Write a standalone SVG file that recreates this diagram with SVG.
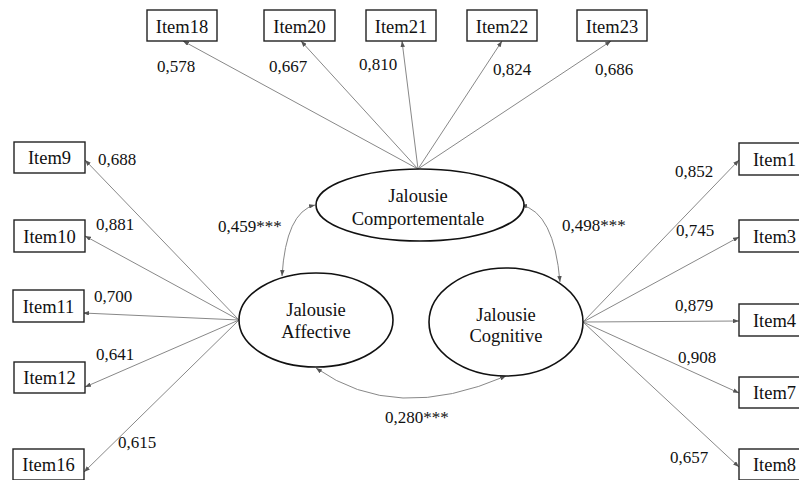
<svg xmlns="http://www.w3.org/2000/svg" width="799" height="480" viewBox="0 0 799 480">
<defs>
<marker id="ah" viewBox="0 0 8 6" refX="8" refY="3" markerWidth="6" markerHeight="4.5" markerUnits="userSpaceOnUse" orient="auto-start-reverse">
<path d="M0,0 L8,3 L0,6 z" fill="#555"/>
</marker>
<style>
.box{fill:#fff;stroke:#222;stroke-width:1.4}
.ell{fill:#fff;stroke:#111;stroke-width:1.6}
.t{font-family:"Liberation Serif","Times New Roman",serif;font-size:18.5px;fill:#111;text-anchor:middle}
.n{font-family:"Liberation Serif","Times New Roman",serif;font-size:17px;fill:#111}
.c line,.c path{stroke:#888;stroke-width:1;fill:none}
</style>
</defs>
<rect width="799" height="480" fill="#fff"/>
<g class="c" id="connectors">
<line x1="418" y1="169" x2="183" y2="41" marker-end="url(#ah)"/>
<line x1="418" y1="169" x2="301" y2="41" marker-end="url(#ah)"/>
<line x1="418" y1="169" x2="402" y2="41" marker-end="url(#ah)"/>
<line x1="418" y1="169" x2="502" y2="41" marker-end="url(#ah)"/>
<line x1="418" y1="169" x2="611" y2="41" marker-end="url(#ah)"/>
<line x1="239" y1="320" x2="85" y2="160" marker-end="url(#ah)"/>
<line x1="239" y1="320" x2="85" y2="236" marker-end="url(#ah)"/>
<line x1="239" y1="320" x2="83" y2="313" marker-end="url(#ah)"/>
<line x1="239" y1="320" x2="85" y2="387" marker-end="url(#ah)"/>
<line x1="239" y1="320" x2="84" y2="472" marker-end="url(#ah)"/>
<line x1="583" y1="322" x2="739" y2="160" marker-end="url(#ah)"/>
<line x1="583" y1="322" x2="739" y2="237" marker-end="url(#ah)"/>
<line x1="583" y1="322" x2="739" y2="321" marker-end="url(#ah)"/>
<line x1="583" y1="322" x2="739" y2="393" marker-end="url(#ah)"/>
<line x1="583" y1="322" x2="739" y2="467" marker-end="url(#ah)"/>
<path d="M315,205 Q286,212 282,276" marker-start="url(#ah)" marker-end="url(#ah)"/>
<path d="M521,205 Q554,212 560,282" marker-start="url(#ah)" marker-end="url(#ah)"/>
<path d="M316,368 Q395,424 506,376" marker-start="url(#ah)" marker-end="url(#ah)"/>
</g>
<g id="item18"><rect class="box" x="147" y="10" width="70" height="31"/><text class="t" x="182" y="33">Item18</text></g>
<g id="item20"><rect class="box" x="264" y="10" width="71" height="31"/><text class="t" x="299.5" y="33">Item20</text></g>
<g id="item21"><rect class="box" x="366" y="10" width="70" height="31"/><text class="t" x="401" y="33">Item21</text></g>
<g id="item22"><rect class="box" x="467" y="10" width="70" height="31"/><text class="t" x="502" y="33">Item22</text></g>
<g id="item23"><rect class="box" x="577" y="10" width="70" height="31"/><text class="t" x="612" y="33">Item23</text></g>
<g id="item9"><rect class="box" x="14" y="142" width="71" height="31"/><text class="t" x="49.5" y="164">Item9</text></g>
<g id="item10"><rect class="box" x="14" y="220" width="71" height="32"/><text class="t" x="49.5" y="243">Item10</text></g>
<g id="item11"><rect class="box" x="13" y="290" width="71" height="32"/><text class="t" x="48.5" y="313">Item11</text></g>
<g id="item12"><rect class="box" x="14" y="362" width="71" height="31"/><text class="t" x="49.5" y="384">Item12</text></g>
<g id="item16"><rect class="box" x="13" y="449" width="71" height="31"/><text class="t" x="48.5" y="471">Item16</text></g>
<g id="item1"><rect class="box" x="739" y="143" width="71" height="32"/><text class="t" x="774.5" y="166">Item1</text></g>
<g id="item3"><rect class="box" x="739" y="220" width="71" height="32"/><text class="t" x="774.5" y="243">Item3</text></g>
<g id="item4"><rect class="box" x="739" y="304" width="71" height="32"/><text class="t" x="774.5" y="327">Item4</text></g>
<g id="item7"><rect class="box" x="739" y="377" width="71" height="31"/><text class="t" x="774.5" y="399">Item7</text></g>
<g id="item8"><rect class="box" x="739" y="449" width="71" height="31"/><text class="t" x="774.5" y="471">Item8</text></g>
<g id="comportementale"><ellipse class="ell" cx="420" cy="205" rx="104" ry="36"/><text class="t" x="418" y="202">Jalousie</text><text class="t" x="418" y="225">Comportementale</text></g>
<g id="affective"><ellipse class="ell" cx="316" cy="320" rx="77" ry="47"/><text class="t" x="316" y="316">Jalousie</text><text class="t" x="316" y="338">Affective</text></g>
<g id="cognitive"><ellipse class="ell" cx="506" cy="322" rx="77" ry="54"/><text class="t" x="506" y="321">Jalousie</text><text class="t" x="506" y="342">Cognitive</text></g>
<g id="labels">
<text class="n" x="157" y="72">0,578</text>
<text class="n" x="269" y="72">0,667</text>
<text class="n" x="359" y="70">0,810</text>
<text class="n" x="493" y="75">0,824</text>
<text class="n" x="595" y="75">0,686</text>
<text class="n" x="98" y="165">0,688</text>
<text class="n" x="96" y="230">0,881</text>
<text class="n" x="94" y="302">0,700</text>
<text class="n" x="96" y="360">0,641</text>
<text class="n" x="118" y="448">0,615</text>
<text class="n" x="675" y="177">0,852</text>
<text class="n" x="676" y="236">0,745</text>
<text class="n" x="675" y="311">0,879</text>
<text class="n" x="678" y="363">0,908</text>
<text class="n" x="670" y="463">0,657</text>
<text class="n" x="218" y="232">0,459***</text>
<text class="n" x="562" y="231">0,498***</text>
<text class="n" x="385" y="423">0,280***</text>
</g>
</svg>
